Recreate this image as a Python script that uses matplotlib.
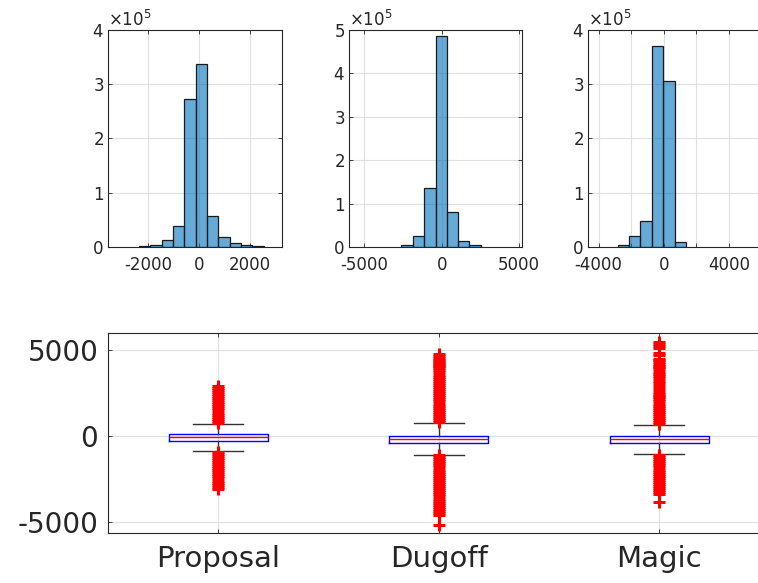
"""
Three error histograms on top and a boxplot of the same errors below (MATLAB look).
"""

import matplotlib
matplotlib.use('Agg')
import matplotlib.pyplot as plt

# histogram bin edges and counts
prop_edges = [-2353, -1909, -1465, -1021, -577, -133, 311, 755, 1199, 1643, 2087, 2531]
prop_counts = [1800, 3700, 13000, 39000, 272000, 338000, 57600, 18000, 7400, 3700, 1800]

dug_edges = [-2610, -1877, -1144, -400, 322, 1055, 1788, 2521]
dug_counts = [4600, 25000, 135500, 487000, 80000, 14500, 4000]

mag_edges = [-2830, -2133, -1436, -739, -42, 655, 1352]
mag_counts = [3000, 20000, 48000, 370000, 306000, 8600]

# boxplot statistics
methods = ['Proposal', 'Dugoff', 'Magic']
medians = [-75, -170, -191]
q1s = [-307, -420, -423]
q3s = [116, 30, 0]
whis_lo = [-869, -1078, -1060]
whis_hi = [695, 753, 637]

prop_fliers = [760, 880, 1000, 1120, 1240, 1360, 1480, 1600, 1720, 1840, 1960, 2080,
               2200, 2320, 2440, 2560, 2680, 2800, 2880,
               -900, -1020, -1140, -1260, -1380, -1500, -1620, -1740, -1860, -1980,
               -2100, -2220, -2340, -2460, -2580, -2700, -2820, -2940, -3050]
dug_fliers = [800, 920, 1040, 1160, 1280, 1400, 1520, 1640, 1760, 1880, 2000, 2120,
              2240, 2360, 2480, 2600, 2720, 2840, 2960, 3080, 3200, 3320, 3440, 3560,
              3680, 3800, 3920, 4040, 4080, 4150, 4220, 4330, 4420, 4540, 4640, 4734,
              -1100, -1220, -1340, -1460, -1580, -1700, -1820, -1940, -2060, -2180,
              -2300, -2420, -2540, -2660, -2780, -2900, -3020, -3140, -3260, -3380,
              -3500, -3620, -3740, -3860, -3980, -4100, -4220, -4340, -4460, -4595,
              -5135]
mag_fliers = [680, 800, 920, 1040, 1160, 1280, 1400, 1520, 1640, 1760, 1880, 2000,
              2120, 2240, 2300, 2433, 2572, 2723, 2920, 3053, 3210, 3384, 3480, 3580,
              3691, 3882, 3980, 4080, 4180, 4280, 4380, 4485, 4716, 4832, 5122, 5220,
              5330, 5446,
              -1100, -1220, -1340, -1460, -1580, -1700, -1820, -1940, -2060, -2180,
              -2300, -2420, -2540, -2660, -2780, -2900, -3020, -3140, -3260, -3360,
              -3840]

TXT = '#262626'
GRID = '#e0e0e0'
BAR = (0.0, 0.447, 0.741, 0.6)

plt.rcParams['font.family'] = ['DejaVu Sans']
fig = plt.figure(figsize=(7.58, 5.83), dpi=100)


def style_axes(ax, size, pad_x, pad_y):
    for s in ax.spines.values():
        s.set_color(TXT)
        s.set_linewidth(0.8)
    ax.tick_params(direction='in', top=True, right=True, colors=TXT,
                   labelsize=size, length=3, width=0.6)
    ax.tick_params(axis='x', pad=pad_x)
    ax.tick_params(axis='y', pad=pad_y)
    ax.grid(True, color=GRID, linewidth=0.8)
    ax.set_axisbelow(True)


def histo(rect, edges, counts, xlim, ylim, xticks, xlabels):
    ax = fig.add_axes(rect)
    widths = [b - a for a, b in zip(edges[:-1], edges[1:])]
    ax.bar(edges[:-1], counts, width=widths, align='edge',
           facecolor=BAR, edgecolor='#1a1a1a', linewidth=0.9)
    ax.set_xlim(*xlim)
    ax.set_ylim(0, ylim)
    ax.set_xticks(xticks)
    ax.set_xticklabels(xlabels)
    ax.set_yticks(range(0, ylim + 1, 100000))
    ax.ticklabel_format(axis='y', style='sci', scilimits=(0, 0), useMathText=True)
    ax.yaxis.get_offset_text().set_fontsize(12)
    ax.yaxis.get_offset_text().set_color(TXT)
    style_axes(ax, 12, 6.5, 3)
    return ax


W, H = 758, 583
hy = (H - 247) / H
hh = 217 / H
histo([108 / W, hy, 174 / W, hh], prop_edges, prop_counts, (-3570, 3255), 400000,
      [-2000, 0, 2000], ['-2000', '0', '2000'])
histo([349 / W, hy, 173 / W, hh], dug_edges, dug_counts, (-6000, 5200), 500000,
      [-5000, 0, 5000], ['-5000', '0', '5000'])
histo([588 / W, hy, 174 / W, hh], mag_edges, mag_counts, (-4650, 6020), 400000,
      [-4000, -2000, 0, 2000, 4000], ['-4000', '', '0', '', '4000'])

# boxplot
ax = fig.add_axes([108 / W, (H - 532.7) / H, 661.5 / W, 200 / H])
fliers = [prop_fliers, dug_fliers, mag_fliers]
stats = []
for i in range(3):
    stats.append({'med': medians[i], 'q1': q1s[i], 'q3': q3s[i],
                  'whislo': whis_lo[i], 'whishi': whis_hi[i],
                  'fliers': fliers[i], 'label': methods[i]})
ax.bxp(stats, positions=[1, 2, 3], widths=0.45, capwidths=0.227,
       boxprops=dict(color='#0000ff', linewidth=1.0),
       medianprops=dict(color='#ff0000', linewidth=1.0),
       whiskerprops=dict(color='#333333', linewidth=1.0),
       capprops=dict(color='#333333', linewidth=1.0),
       flierprops=dict(marker='+', markeredgecolor='#ff0000', markersize=8.6,
                       markeredgewidth=2.2, linestyle='none'))
ax.set_xlim(0.5, 3.5)
ax.set_ylim(-5600, 5985)
ax.set_yticks([-5000, 0, 5000])
ax.set_yticklabels(['-5000', '0', '5000'])
style_axes(ax, 20, 9, 7)
ax.tick_params(axis='x', labelsize=21)

plt.savefig('out.png', dpi=100)
